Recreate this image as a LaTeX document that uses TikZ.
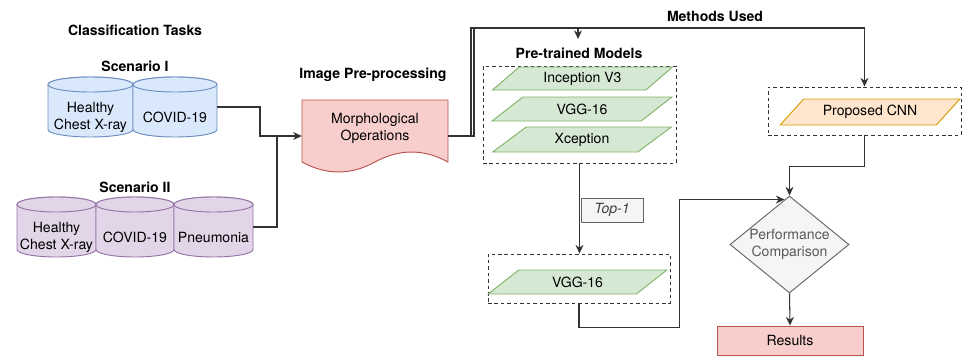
\documentclass[tikz,border=0pt]{standalone}
\usepackage{fontspec}
\setmainfont{TeX Gyre Heros}
\usetikzlibrary{arrows.meta,shapes.geometric,calc}

\definecolor{bluefill}{HTML}{DAE8FC}
\definecolor{blueline}{HTML}{6C8EBF}
\definecolor{purplefill}{HTML}{E1D5E7}
\definecolor{purpleline}{HTML}{9673A6}
\definecolor{redfill}{HTML}{F8CECC}
\definecolor{redline}{HTML}{B85450}
\definecolor{greenfill}{HTML}{D5E8D4}
\definecolor{greenline}{HTML}{82B366}
\definecolor{orangefill}{HTML}{FFE6CC}
\definecolor{orangeline}{HTML}{D79B00}
\definecolor{grayfill}{HTML}{F5F5F5}
\definecolor{grayline}{HTML}{666666}

\newcommand{\pxu}{0.3mm}
% cylinder: style, name, left, right, top, bottom, text
\newcommand{\dbcyl}[7]{%
  \filldraw[#1] (#3,#5+7.5) -- (#3,#6-7.5)
    arc[start angle=180,end angle=0,x radius={(#4-#3)/2},y radius=7.5]
    -- (#4,#5+7.5)
    arc[start angle=0,end angle=-180,x radius={(#4-#3)/2},y radius=7.5] -- cycle;
  \draw[#1] ({(#3+#4)/2},#5+7.5) ellipse[x radius={(#4-#3)/2},y radius=7.5];
  \node[txt, minimum width={(#4-#3)*\pxu}, minimum height={(#6-#5)*\pxu}]
    (#2) at ({(#3+#4)/2},{(#5+#6)/2+10}) {#7};}

\tikzset{
  txt/.style={font=\fontsize{12}{14.5}\selectfont, align=center, inner sep=0pt},
  heading/.style={txt, font=\fontsize{12}{14.5}\selectfont\bfseries},
  wire/.style={draw=black!80, line width=0.9pt},
  conn/.style={wire, -{Stealth[length=2.6mm,width=2.4mm]}},
  dashbox/.style={draw=black!80, line width=0.8pt, dash pattern=on 3pt off 2.5pt, inner sep=0pt},
  cylblue/.style={fill=bluefill, draw=blueline, line width=0.8pt},
  cylpurple/.style={fill=purplefill, draw=purpleline, line width=0.8pt},
  para/.style={txt, trapezium, trapezium left angle=39, trapezium right angle=141,
    trapezium stretches=true, draw=greenline, fill=greenfill, line width=0.8pt},
  graybox/.style={txt, draw=grayline, fill=grayfill, line width=0.8pt},
}

\begin{document}
\begin{tikzpicture}[x=\pxu, y=-\pxu]
\useasboundingbox (0,0) rectangle (966,358);

% classification tasks
\node[heading] (ctask) at (135,30) {Classification Tasks};
\node[heading] (scen1) at (135,66) {Scenario I};
\dbcyl{cylblue}{s1h}{48}{133}{77}{137}{Healthy\\Chest X-ray}
\dbcyl{cylblue}{s1c}{133}{217}{77}{137}{COVID-19}
\node[heading] (scen2) at (135,187) {Scenario II};
\dbcyl{cylpurple}{s2h}{17}{96}{197}{257}{Healthy\\Chest X-ray}
\dbcyl{cylpurple}{s2c}{96}{174}{197}{257}{COVID-19}
\dbcyl{cylpurple}{s2p}{174}{253}{197}{257}{Pneumonia}

% pre-processing
\node[heading] (prep) at (373,75) {Image Pre-processing};
\filldraw[fill=redfill, draw=redline, line width=0.8pt] (302,100) -- (448,100) -- (448,162)
  .. controls (423.7,148.7) and (399.3,148.7) .. (375,162)
  .. controls (350.7,175.3) and (326.3,175.3) .. (302,162) -- cycle;
\node[txt, minimum width=146*\pxu, minimum height=54*\pxu] (doc) at (375,128) {Morphological\\Operations};

% methods
\node[heading] (methods) at (715,16) {Methods Used};
\node[heading] (ptlabel) at (579,53) {Pre-trained Models};
\node[dashbox, minimum width=193*\pxu, minimum height=97*\pxu] (ptbox) at (579.5,114.5) {};
\node[para, minimum width=181*\pxu, minimum height=23*\pxu] (incep) at (582.5,78.5) {Inception V3};
\node[para, minimum width=180*\pxu, minimum height=24*\pxu] (vgga) at (582,109) {VGG-16};
\node[para, minimum width=180*\pxu, minimum height=25*\pxu] (xcep) at (582,139.5) {Xception};

\node[dashbox, minimum width=193*\pxu, minimum height=48*\pxu] (cnnbox) at (864.5,111) {};
\node[para, draw=orangeline, fill=orangefill, minimum width=180*\pxu, minimum height=26*\pxu] (cnn) at (870,112) {Proposed CNN};

\node[graybox, font=\fontsize{12}{14.5}\selectfont\itshape, text=black!75, minimum width=62*\pxu, minimum height=24*\pxu] (top1) at (612,210) {Top-1};

\node[dashbox, minimum width=182*\pxu, minimum height=49*\pxu] (vggbox) at (579,278.5) {};
\node[para, minimum width=179*\pxu, minimum height=24*\pxu] (vggb) at (577.5,282) {VGG-16};

\node[graybox, diamond, aspect=1.23, text=black!65, minimum width=119*\pxu, minimum height=97*\pxu] (perf) at (789.5,244.5) {Performance\\Comparison};
\node[txt, draw=redline, fill=redfill, line width=0.8pt, minimum width=146*\pxu, minimum height=29*\pxu] (res) at (790,340.5) {Results};

% connectors
\coordinate (join) at (277,136);
\coordinate (ptarrow) at (578,39);
\draw[conn] ($(s1c.east)+(0,-10)$) -- (260,107) |- ($(doc.west)+(0,8)$);
\draw[wire] ($(s2p.east)+(0,-10)$) -| (join);
\draw[conn] ($(doc.east)+(0,8)$) -- (471,136) -- (471,28) -| (cnnbox.north);
\draw[conn] ($(doc.east)+(0,8)$) -- (474,136) -- (474,28) -| (ptarrow);
\draw[conn] (ptbox.south) -- (ptbox.south |- vggbox.north);
\draw[conn] (vggbox.south) -- ++(0,24) -| ($(perf.north)+(-110,4)$) -- ($(perf.north)+(-5,4)$);
\draw[conn] (cnnbox.south) -- ++(0,31) -| (perf.north);
\draw[conn] (perf.south) -- (res.north);
\end{tikzpicture}
\end{document}
